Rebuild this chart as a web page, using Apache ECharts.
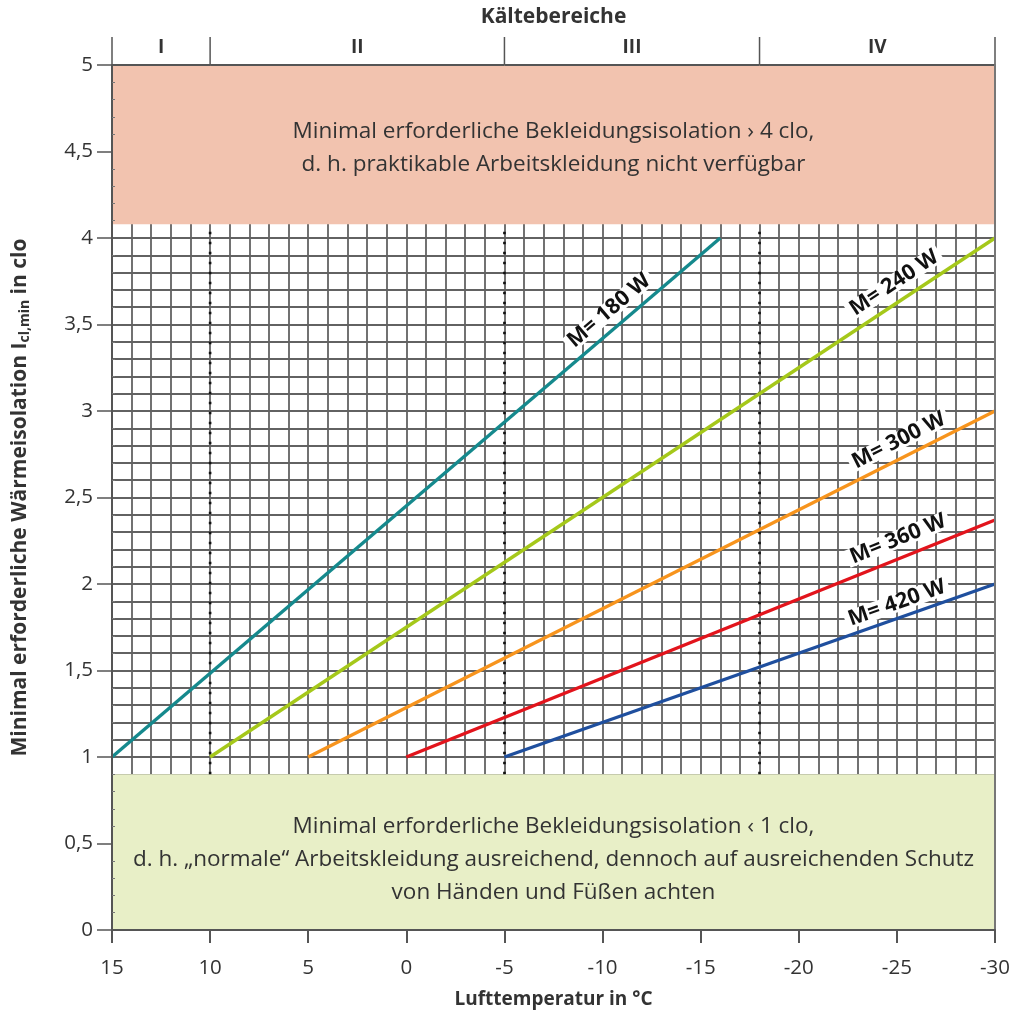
<!DOCTYPE html>
<html><head><meta charset="utf-8">
<script src="https://cdn.jsdelivr.net/npm/echarts@6/dist/echarts.min.js"></script>
<style>html,body{margin:0;padding:0;background:#fff}#c{width:1017px;height:1014px}</style>
</head><body><div id="c"></div>
<script>
// ---- data ----
const seriesNames = ['M= 180 W', 'M= 240 W', 'M= 300 W', 'M= 360 W', 'M= 420 W'];
const line180 = [[15, 1.0], [-16, 4.0]];
const line240 = [[10, 1.0], [-30, 4.0]];
const line300 = [[5, 1.0], [-30, 3.0]];
const line360 = [[0, 1.0], [-30, 2.37]];
const line420 = [[-5, 1.0], [-30, 2.0]];
const labelAnchors = [[-10.33, 3.58], [-24.86, 3.74], [-25.1, 2.83], [-25.06, 2.26], [-25.0, 1.89]];
const zoneNames = ['I', 'II', 'III', 'IV'];
const zoneBounds = [15, 10, -5, -18, -30];
const dottedX = [10, -5, -18];
const topBand = [4.08, 5];
const bottomBand = [0, 0.9];
const topBandText = ['Minimal erforderliche Bekleidungsisolation › 4 clo,', 'd. h. praktikable Arbeitskleidung nicht verfügbar'];
const bottomBandText = ['Minimal erforderliche Bekleidungsisolation ‹ 1 clo,', 'd. h. „normale“ Arbeitskleidung ausreichend, dennoch auf ausreichenden Schutz', 'von Händen und Füßen achten'];
const xTitle = 'Lufttemperatur in °C';
const zoneTitle = 'Kältebereiche';

// ---- style ----
const lines = [line180, line240, line300, line360, line420];
const colors = ['#15898d', '#a5c81a', '#f7941d', '#e2141c', '#1f4f9e'];
const FONT = '"Open Sans", "Noto Sans", sans-serif';
const TXT = '#333';
const AX = '#555';
const X0 = 15, X1 = -30, Y1 = 5;

const chart = echarts.init(document.getElementById('c'), null, {renderer: 'canvas'});
const xBase = {type: 'value', min: -30, max: 15, interval: 5, inverse: true};
const yBase = {type: 'value', min: 0, max: 5, interval: 0.5};
const gridLine = {show: true, lineStyle: {color: '#626262', width: 1.8}};

const series = [];
// bands
series.push({
  type: 'custom', z: 1, clip: false, silent: true,
  data: [[bottomBand[0], bottomBand[1], 0], [topBand[0], topBand[1], 1]],
  renderItem: (p, api) => {
    const a = api.coord([X0, api.value(1)]), b = api.coord([X1, api.value(0)]);
    const isTop = api.value(2) === 1;
    return {type: 'group', children: [
      {type: 'rect', shape: {x: a[0], y: a[1], width: b[0] - a[0], height: b[1] - a[1]},
       style: {fill: isTop ? '#f2c3af' : '#e8efc7'}},
      {type: 'text', x: (a[0] + b[0]) / 2, y: (a[1] + b[1]) / 2 + (isTop ? 4 : 7),
       style: {text: (isTop ? topBandText : bottomBandText).join('\n'), align: 'center', verticalAlign: 'middle',
               font: '22.5px ' + FONT, lineHeight: 33, fill: TXT}}
    ]};
  }
});
// dotted lines
series.push({
  type: 'custom', z: 2, clip: false, silent: true,
  data: dottedX.map(v => [v]),
  renderItem: (p, api) => {
    const a = api.coord([api.value(0), bottomBand[1]]), b = api.coord([api.value(0), topBand[0]]);
    return {type: 'line', shape: {x1: a[0], y1: a[1], x2: b[0], y2: b[1]},
      style: {stroke: '#111', lineWidth: 2.6, lineDash: [2.6, 7.4]}};
  }
});
// lines
lines.forEach((d, i) => series.push({
  type: 'line', name: seriesNames[i], data: d, z: 3, symbol: 'none', silent: true,
  lineStyle: {color: colors[i], width: 3.4}
}));
// line labels
series.push({
  type: 'custom', z: 4, clip: false, silent: true,
  data: labelAnchors.map((d, i) => [d[0], d[1], i]),
  encode: {x: 0, y: 1},
  renderItem: (p, api) => {
    const i = api.value(2);
    const c = api.coord([api.value(0), api.value(1)]);
    const a = api.coord(lines[i][0]), b = api.coord(lines[i][1]);
    const ang = -Math.atan2(b[1] - a[1], b[0] - a[0]);
    return {type: 'text', x: c[0], y: c[1], rotation: ang,
      style: {text: seriesNames[i], align: 'center', verticalAlign: 'middle', font: 'bold 21.5px ' + FONT,
              fill: '#111', backgroundColor: '#fff', padding: [-2, 4, -2, 4]}};
  }
});
// header (Kältebereiche)
series.push({
  type: 'custom', z: 5, clip: false, silent: true,
  data: zoneNames.map((n, i) => [zoneBounds[i], zoneBounds[i + 1], i]),
  renderItem: (p, api) => {
    const i = api.value(2);
    const s = api.coord([api.value(0), Y1]), e = api.coord([api.value(1), Y1]);
    const top = s[1] - 28;
    const ch = [
      {type: 'line', shape: {x1: s[0], y1: s[1], x2: e[0], y2: e[1]}, style: {stroke: AX, lineWidth: 2}},
      {type: 'line', shape: {x1: s[0], y1: top, x2: s[0], y2: s[1]}, style: {stroke: AX, lineWidth: 1.5}},
      {type: 'text', x: (s[0] + e[0]) / 2, y: s[1] - 17,
       style: {text: zoneNames[i], align: 'center', verticalAlign: 'middle', font: 'bold 19px ' + FONT, fill: TXT}}
    ];
    if (i === zoneNames.length - 1) {
      ch.push({type: 'line', shape: {x1: e[0], y1: top, x2: e[0], y2: e[1]}, style: {stroke: AX, lineWidth: 1.5}});
    }
    if (i === 0) {
      const l = api.coord([X0, Y1]), r = api.coord([X1, Y1]);
      ch.push({type: 'text', x: (l[0] + r[0]) / 2, y: s[1] - 48,
        style: {text: zoneTitle, align: 'center', verticalAlign: 'middle', font: 'bold 21px ' + FONT, fill: TXT}});
    }
    return {type: 'group', children: ch};
  }
});

chart.setOption({
  animation: false,
  grid: {left: 112, right: 22, top: 65, bottom: 81, containLabel: false},
  xAxis: [
    Object.assign({}, xBase, {
      position: 'bottom', z: 6,
      axisLine: {show: true, onZero: false, lineStyle: {color: AX, width: 2}},
      axisTick: {show: true, length: 13, lineStyle: {color: AX, width: 2}},
      axisLabel: {margin: 28, fontSize: 20.5, fontFamily: FONT, color: TXT},
      splitLine: {show: false},
      name: xTitle, nameLocation: 'middle', nameGap: 60,
      nameTextStyle: {fontSize: 19, fontWeight: 'bold', fontFamily: FONT, color: TXT}
    }),
    Object.assign({}, xBase, {
      position: 'top', z: 0,
      axisLine: {show: false, onZero: false}, axisTick: {show: false}, axisLabel: {show: false},
      splitLine: gridLine,
      minorTick: {show: false, splitNumber: 5},
      minorSplitLine: gridLine
    })
  ],
  yAxis: [
    Object.assign({}, yBase, {
      position: 'left', z: 6,
      axisLine: {show: true, onZero: false, lineStyle: {color: AX, width: 2}},
      axisTick: {show: true, length: 15, lineStyle: {color: AX, width: 1.5}},
      axisLabel: {margin: 19, fontSize: 20.5, fontFamily: FONT, color: TXT,
        formatter: v => String(v).replace('.', ',')},
      splitLine: {show: false},
      name: 'Minimal erforderliche Wärmeisolation I{sub|cl,min} in clo',
      nameLocation: 'middle', nameGap: 80, nameRotate: 90,
      nameTextStyle: {fontSize: 21, fontWeight: 'bold', fontFamily: FONT, color: TXT,
        rich: {sub: {fontSize: 14, fontWeight: 'bold', fontFamily: FONT, color: TXT, verticalAlign: 'bottom', padding: [10, 0, 0, 0]}}}
    }),
    Object.assign({}, yBase, {
      position: 'right', z: 0,
      axisLine: {show: false, onZero: false}, axisTick: {show: false}, axisLabel: {show: false},
      splitLine: gridLine,
      minorTick: {show: false, splitNumber: 5},
      minorSplitLine: gridLine
    }),
    Object.assign({}, yBase, {
      position: 'right', z: 6,
      axisLine: {show: true, onZero: false, lineStyle: {color: '#777', width: 2}},
      axisTick: {show: false}, axisLabel: {show: false}, splitLine: {show: false}
    }),
    Object.assign({}, yBase, {
      position: 'left', z: 6,
      axisLine: {show: false, onZero: false},
      axisTick: {show: false, inside: true}, axisLabel: {show: false}, splitLine: {show: false},
      minorTick: {show: true, splitNumber: 5, length: 3, lineStyle: {color: '#777', width: 1}}
    })
  ],
  series: series
});
</script></body></html>
